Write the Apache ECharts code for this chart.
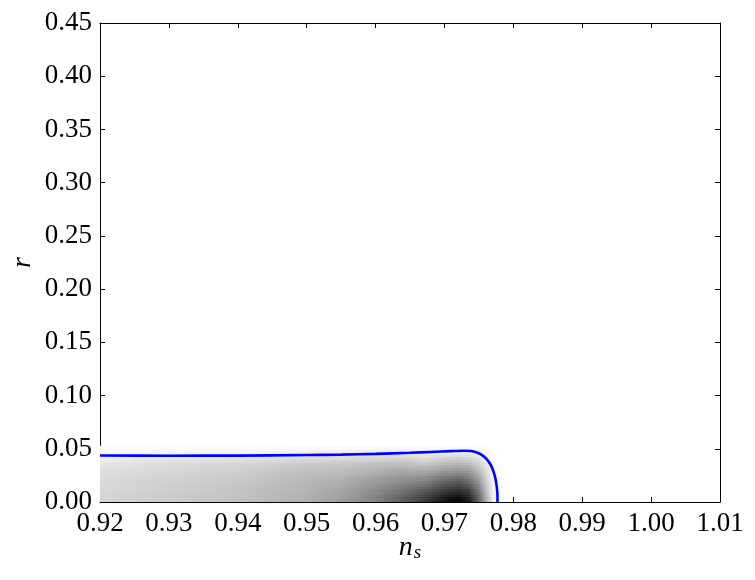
<!DOCTYPE html>
<html>
<head>
<meta charset="utf-8">
<script src="https://cdn.jsdelivr.net/npm/echarts@6/dist/echarts.min.js"></script>
<style>
html,body{margin:0;padding:0;background:#fff;}
#chart{width:755px;height:580px;}
</style>
</head>
<body>
<div id="chart"></div>
<script>
// Axis ticks
const xTicks = [0.92, 0.93, 0.94, 0.95, 0.96, 0.97, 0.98, 0.99, 1.00, 1.01];
const yTicks = [0.00, 0.05, 0.10, 0.15, 0.20, 0.25, 0.30, 0.35, 0.40, 0.45];

// Contour line (blue)
const contourNs = [0.920, 0.930, 0.940, 0.950, 0.955, 0.960, 0.965, 0.968, 0.971, 0.9728, 0.9738, 0.9746, 0.9754, 0.9761, 0.9767, 0.9771, 0.9774, 0.9776, 0.9777, 0.9777];
const contourR  = [0.0437, 0.0435, 0.0436, 0.0441, 0.0445, 0.0452, 0.0462, 0.0470, 0.0478, 0.0482, 0.0479, 0.0467, 0.0443, 0.0405, 0.0350, 0.0290, 0.0220, 0.0140, 0.0060, 0.0];

// Density (darkness 0 = white, 1 = black)
const densityX = [0.920, 0.930, 0.940, 0.950, 0.955, 0.960, 0.964, 0.967, 0.970, 0.972, 0.9735, 0.975, 0.976, 0.977, 0.978, 0.979];
const densityR = [0, 0.0025, 0.005, 0.0075, 0.01, 0.0125, 0.015, 0.0175, 0.02, 0.0225, 0.025, 0.0275, 0.03, 0.0325, 0.035, 0.0375, 0.04, 0.0425, 0.045, 0.0475, 0.05, 0.0525];
const densityRows = [
  [.16,.20,.24,.31,.38,.50,.63,.76,.92,.98,.90,.62,.33,.08,.01,0],
  [.16,.20,.24,.31,.37,.49,.62,.74,.89,.95,.87,.60,.32,.08,.01,0],
  [.16,.20,.24,.31,.37,.48,.60,.71,.86,.91,.84,.58,.31,.07,.01,0],
  [.16,.20,.23,.30,.36,.46,.57,.67,.81,.86,.79,.55,.29,.07,.01,0],
  [.15,.19,.23,.30,.35,.45,.55,.63,.76,.81,.75,.51,.27,.07,.01,0],
  [.15,.19,.23,.29,.34,.43,.52,.59,.71,.75,.69,.48,.25,.06,.01,0],
  [.15,.19,.22,.29,.33,.41,.49,.55,.66,.71,.65,.45,.24,.06,.01,0],
  [.15,.18,.22,.28,.32,.39,.46,.50,.61,.65,.59,.41,.22,.05,.01,0],
  [.14,.18,.21,.28,.31,.38,.44,.46,.56,.60,.55,.38,.20,.05,.01,0],
  [.14,.17,.21,.27,.29,.36,.41,.43,.52,.55,.50,.35,.18,.04,.01,0],
  [.13,.17,.20,.26,.28,.33,.38,.38,.46,.49,.45,.31,.17,.04,.01,0],
  [.13,.16,.19,.25,.26,.31,.35,.34,.41,.44,.41,.28,.15,.04,.01,0],
  [.12,.15,.18,.24,.25,.29,.32,.30,.36,.38,.35,.24,.13,.03,.01,0],
  [.11,.14,.17,.22,.23,.26,.28,.26,.31,.33,.31,.21,.11,.03,.01,0],
  [.10,.13,.16,.20,.21,.24,.25,.22,.27,.28,.26,.18,.10,.02,0,0],
  [.09,.11,.13,.17,.18,.20,.21,.17,.21,.23,.21,.14,.08,.02,0,0],
  [.07,.09,.11,.14,.14,.16,.17,.14,.17,.18,.16,.11,.06,.01,0,0],
  [.05,.07,.08,.11,.11,.12,.12,.10,.12,.13,.12,.08,.04,.01,0,0],
  [.04,.04,.05,.07,.07,.08,.08,.06,.07,.08,.07,.05,.03,.01,0,0],
  [.02,.03,.03,.04,.04,.05,.05,.04,.05,.05,.05,.03,.02,0,0,0],
  [.01,.01,.01,.02,.02,.02,.02,.02,.02,.02,.02,.01,.01,0,0,0]
];

const FONT = 'Liberation Serif';
const chart = echarts.init(document.getElementById('chart'), null, {renderer: 'canvas'});

function gray(d) {
  const g = Math.round(255 * (1 - d));
  return 'rgb(' + g + ',' + g + ',' + g + ')';
}

const xMin = xTicks[0], xMax = xTicks[xTicks.length - 1];
const yMin = yTicks[0], yMax = yTicks[yTicks.length - 1];
const xInt = 0.01, yInt = 0.05;

const baseTick = {show: true, inside: true, length: 5, lineStyle: {color: '#000', width: 1}};

chart.setOption({
  animation: false,
  backgroundColor: '#fff',
  grid: {left: 100, right: 35, top: 23, bottom: 78, containLabel: false},
  xAxis: [{
    type: 'value', min: xMin, max: xMax, interval: xInt, position: 'bottom',
    name: '{n|n}{s|s}', nameLocation: 'middle', nameGap: 30, nameMoveOverlap: false,
    nameTextStyle: {
      color: '#000',
      rich: {
        n: {fontFamily: FONT, fontStyle: 'italic', fontSize: 28, color: '#000', lineHeight: 30, verticalAlign: 'bottom'},
        s: {fontFamily: FONT, fontStyle: 'italic', fontSize: 19, color: '#000', lineHeight: 30, verticalAlign: 'bottom', padding: [16, 0, 0, 1]}
      }
    },
    axisLine: {show: true, onZero: false, lineStyle: {color: '#000', width: 1}},
    axisTick: baseTick,
    axisLabel: {show: true, margin: 8, color: '#000', fontFamily: FONT, fontSize: 27,
      showMinLabel: true, showMaxLabel: true, formatter: v => v.toFixed(2)},
    splitLine: {show: false}
  }, {
    type: 'value', min: xMin, max: xMax, interval: xInt, position: 'top',
    axisLine: {show: true, onZero: false, lineStyle: {color: '#000', width: 1}},
    axisTick: baseTick, axisLabel: {show: false}, splitLine: {show: false}
  }],
  yAxis: [{
    type: 'value', min: yMin, max: yMax, interval: yInt, position: 'left',
    name: 'r', nameLocation: 'middle', nameGap: 63, nameMoveOverlap: false,
    nameTextStyle: {fontFamily: FONT, fontStyle: 'italic', fontSize: 28, color: '#000'},
    axisLine: {show: true, onZero: false, lineStyle: {color: '#000', width: 1}},
    axisTick: baseTick,
    axisLabel: {show: true, margin: 8, color: '#000', fontFamily: FONT, fontSize: 27,
      showMinLabel: true, showMaxLabel: true, formatter: v => v.toFixed(2)},
    splitLine: {show: false}
  }, {
    type: 'value', min: yMin, max: yMax, interval: yInt, position: 'right',
    axisLine: {show: true, onZero: false, lineStyle: {color: '#000', width: 1}},
    axisTick: baseTick, axisLabel: {show: false}, splitLine: {show: false}
  }],
  series: [{
    type: 'custom',
    xAxisIndex: 0, yAxisIndex: 0,
    clip: true,
    silent: true,
    z: 1,
    data: densityRows.map((row, i) => [i]),
    renderItem: function (params, api) {
      const i = api.value(0);
      const row = densityRows[i];
      const x0 = densityX[0], x1 = densityX[densityX.length - 1];
      const pBL = api.coord([x0, densityR[i]]);
      const pTR = api.coord([x1, densityR[i + 1]]);
      const stops = densityX.map((x, k) => ({offset: (x - x0) / (x1 - x0), color: gray(row[k])}));
      return {
        type: 'rect',
        shape: {x: pBL[0], y: pTR[1] - 0.4, width: pTR[0] - pBL[0], height: pBL[1] - pTR[1] + 0.8},
        style: {fill: new echarts.graphic.LinearGradient(0, 0, 1, 0, stops), stroke: null}
      };
    }
  }, {
    type: 'line',
    xAxisIndex: 0, yAxisIndex: 0,
    data: contourNs.map((x, i) => [x, contourR[i]]),
    showSymbol: false,
    symbol: 'none',
    smooth: 0.25,
    lineStyle: {color: '#0000ff', width: 2.6},
    z: 3
  }]
});
</script>
</body>
</html>
